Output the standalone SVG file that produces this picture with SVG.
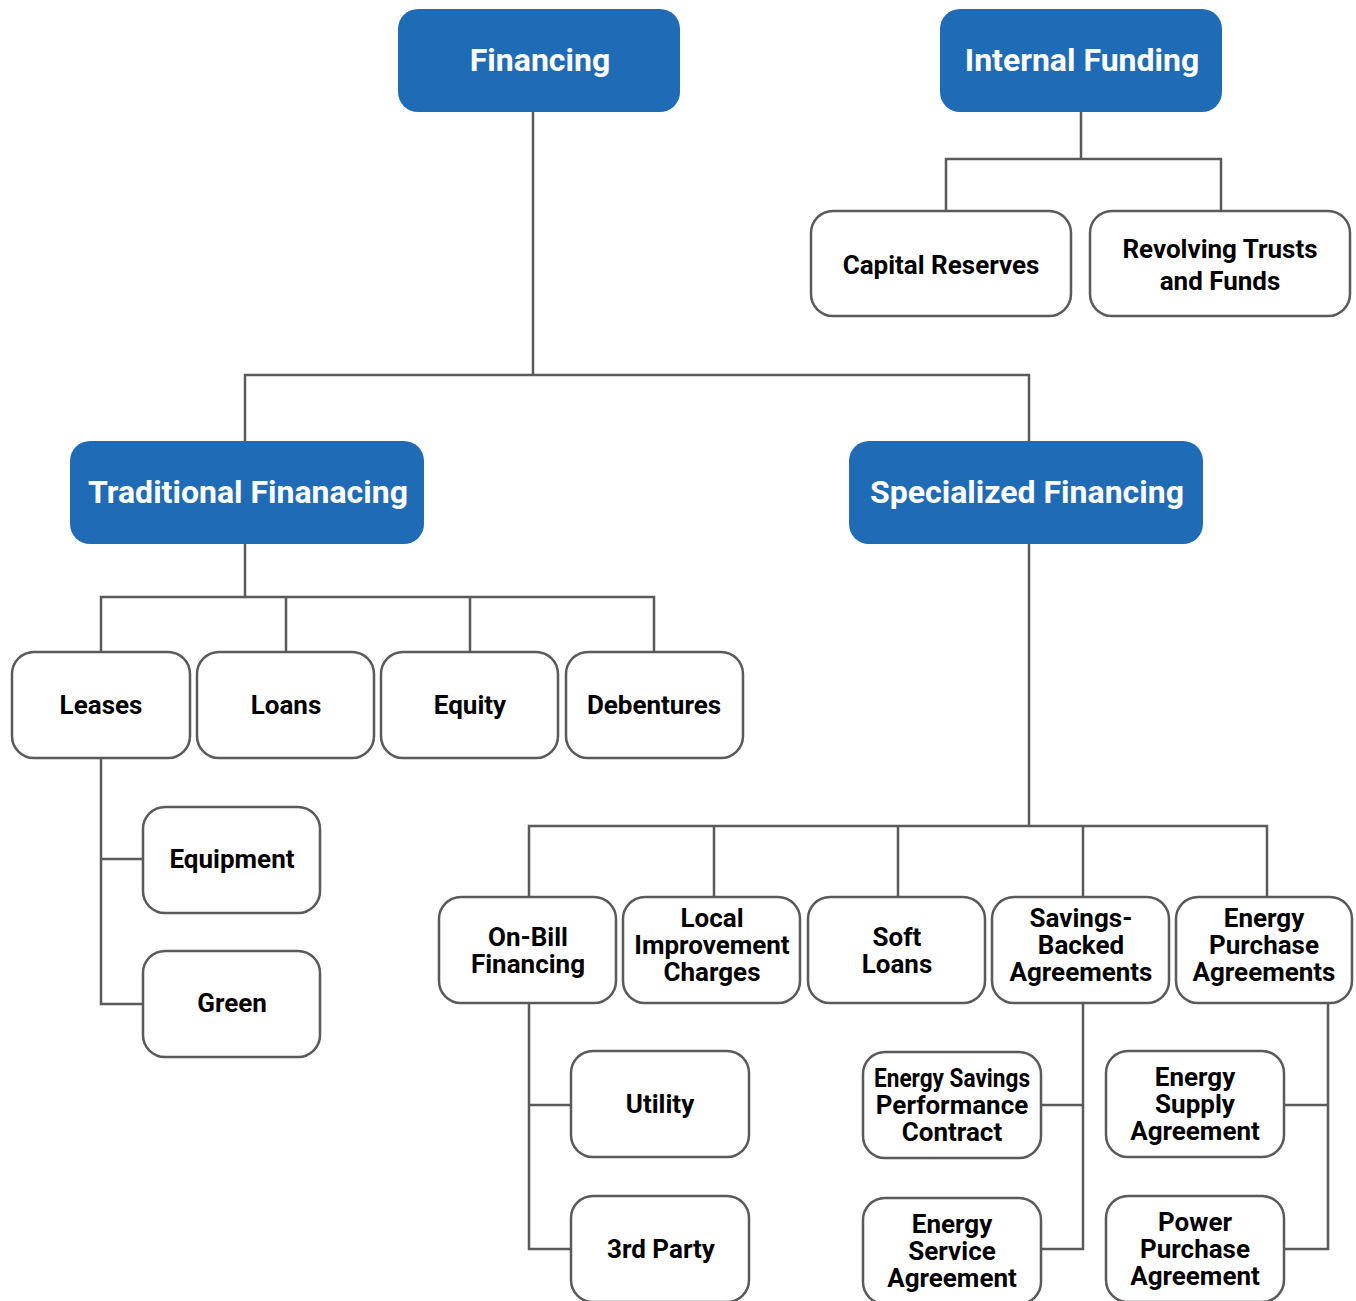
<svg xmlns="http://www.w3.org/2000/svg" width="1356" height="1301" viewBox="0 0 1356 1301">
<style>
.blue rect{fill:#206bb6;stroke:none}
.blue text{fill:#fff;font-family:Roboto,"Liberation Sans",sans-serif;font-weight:bold;font-size:32px;text-anchor:middle}
.node rect{fill:#fff;stroke:#5a5a5a;stroke-width:2.5}
.node text{fill:#000;font-family:Roboto,"Liberation Sans",sans-serif;font-weight:bold;font-size:26px;text-anchor:middle}
#connectors path{fill:none;stroke:#5a5a5a;stroke-width:2.5}
</style>
<rect width="1356" height="1301" fill="#fff"/>
<g id="connectors">
<path d="M533 112V375M245 441V375H1029V441"/>
<path d="M1081 112V159M946 211V159H1221V211"/>
<path d="M245 544V597M101 652V597H654V652M286 597V652M470 597V652"/>
<path d="M101 758V1004H143M101 859H143"/>
<path d="M1029 544V826M529 897V826H1267V897M714 826V897M898 826V897M1083 826V897"/>
<path d="M529 1003V1249H571M529 1105H571"/>
<path d="M1083 1003V1249H1041M1083 1105H1041"/>
<path d="M1328 1003V1249H1284M1328 1105H1284"/>
</g>
<g id="financing" class="blue"><rect x="398" y="9" width="282" height="103" rx="20"/><text x="540" y="71">Financing</text></g>
<g id="internal-funding" class="blue"><rect x="940" y="9" width="282" height="103" rx="20"/><text x="1082" y="71">Internal Funding</text></g>
<g id="traditional-financing" class="blue"><rect x="70" y="441" width="354" height="103" rx="20"/><text x="248" y="503">Traditional Finanacing</text></g>
<g id="specialized-financing" class="blue"><rect x="849" y="441" width="354" height="103" rx="20"/><text x="1027" y="503">Specialized Financing</text></g>
<g id="capital-reserves" class="node"><rect x="811" y="211" width="260" height="105" rx="22"/><text x="941" y="274">Capital Reserves</text></g>
<g id="revolving-trusts" class="node"><rect x="1090" y="211" width="260" height="105" rx="22"/><text x="1220" y="258">Revolving Trusts</text><text x="1220" y="290">and Funds</text></g>
<g id="leases" class="node"><rect x="12" y="652" width="178" height="106" rx="22"/><text x="101" y="714">Leases</text></g>
<g id="loans" class="node"><rect x="197" y="652" width="177" height="106" rx="22"/><text x="286" y="714">Loans</text></g>
<g id="equity" class="node"><rect x="381" y="652" width="177" height="106" rx="22"/><text x="470" y="714">Equity</text></g>
<g id="debentures" class="node"><rect x="566" y="652" width="177" height="106" rx="22"/><text x="654" y="714">Debentures</text></g>
<g id="equipment" class="node"><rect x="143" y="807" width="177" height="106" rx="22"/><text x="232" y="868">Equipment</text></g>
<g id="green" class="node"><rect x="143" y="951" width="177" height="106" rx="22"/><text x="232" y="1012">Green</text></g>
<g id="on-bill" class="node"><rect x="439" y="897" width="177" height="106" rx="22"/><text x="528" y="946">On-Bill</text><text x="528" y="973">Financing</text></g>
<g id="local-improvement" class="node"><rect x="623" y="897" width="177" height="106" rx="22"/><text x="712" y="927">Local</text><text x="712" y="954">Improvement</text><text x="712" y="981">Charges</text></g>
<g id="soft-loans" class="node"><rect x="808" y="897" width="177" height="106" rx="22"/><text x="897" y="946">Soft</text><text x="897" y="973">Loans</text></g>
<g id="savings-backed" class="node"><rect x="992" y="897" width="177" height="106" rx="22"/><text x="1081" y="927">Savings-</text><text x="1081" y="954">Backed</text><text x="1081" y="981">Agreements</text></g>
<g id="energy-purchase" class="node"><rect x="1176" y="897" width="176" height="106" rx="22"/><text x="1264" y="927">Energy</text><text x="1264" y="954">Purchase</text><text x="1264" y="981">Agreements</text></g>
<g id="utility" class="node"><rect x="571" y="1051" width="178" height="106" rx="22"/><text x="660" y="1113">Utility</text></g>
<g id="third-party" class="node"><rect x="571" y="1196" width="178" height="106" rx="22"/><text x="661" y="1258">3rd Party</text></g>
<g id="espc" class="node"><rect x="863" y="1052" width="178" height="106" rx="22"/><text x="952" y="1087" textLength="156" lengthAdjust="spacingAndGlyphs">Energy Savings</text><text x="952" y="1114">Performance</text><text x="952" y="1141">Contract</text></g>
<g id="esa" class="node"><rect x="863" y="1198" width="178" height="106" rx="22"/><text x="952" y="1233">Energy</text><text x="952" y="1260">Service</text><text x="952" y="1287">Agreement</text></g>
<g id="energy-supply" class="node"><rect x="1106" y="1051" width="178" height="106" rx="22"/><text x="1195" y="1086">Energy</text><text x="1195" y="1113">Supply</text><text x="1195" y="1140">Agreement</text></g>
<g id="ppa" class="node"><rect x="1106" y="1196" width="178" height="106" rx="22"/><text x="1195" y="1231">Power</text><text x="1195" y="1258">Purchase</text><text x="1195" y="1285">Agreement</text></g>
</svg>
